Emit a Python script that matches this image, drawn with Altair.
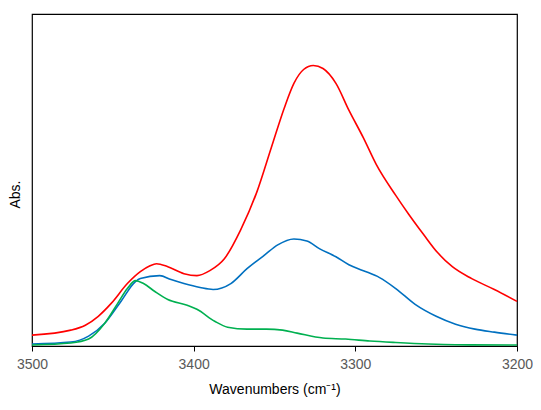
import altair as alt
import pandas as pd

red_wn = [3500, 3476, 3467, 3459, 3451, 3441, 3433, 3427, 3423, 3416, 3406, 3398, 3390, 3381, 3371, 3361,
          3352, 3344, 3338, 3332, 3326, 3320, 3312, 3304, 3295, 3287, 3275, 3267, 3258, 3249, 3240,
          3228, 3214, 3200]
red_abs = [11, 16, 21, 30, 43, 63, 75, 81, 83, 80, 73, 71, 76, 88, 117, 155,
           200, 240, 265, 279, 283, 280, 265, 238, 210, 183, 152, 133, 113, 94, 80,
           68, 57, 45]

blue_wn = [3500, 3476, 3465, 3455, 3445, 3436, 3433, 3421, 3414, 3406, 3396, 3388, 3377, 3367, 3356, 3348,
           3338, 3330, 3322, 3312, 3304, 3295, 3285, 3275, 3263, 3250, 3238, 3226, 3214, 3200]
blue_abs = [2, 4, 10, 23, 45, 65, 68, 71, 67, 63, 59, 57, 63, 78, 92, 102,
            108, 106, 98, 90, 82, 76, 69, 58, 42, 30, 22, 17, 14, 11]

green_wn = [3500, 3476, 3465, 3455, 3447, 3441, 3436, 3431, 3424, 3416, 3404, 3398, 3387, 3379, 3367, 3355,
            3345, 3336, 3320, 3306, 3291, 3275, 3255, 3238, 3200]
green_abs = [1, 3, 7, 23, 43, 58, 66, 63, 55, 47, 41, 37, 25, 19, 17, 17,
             16, 13, 8, 7, 5, 3.5, 2, 1.3, 1]

series_names = ["red", "blue", "green"]
series_colors = ["#FF0000", "#0070C0", "#00B050"]
x_ticks = [3500, 3400, 3300, 3200]

rows = []
for name, wn, ab in [("red", red_wn, red_abs), ("blue", blue_wn, blue_abs), ("green", green_wn, green_abs)]:
    for i, (w, a) in enumerate(zip(wn, ab)):
        rows.append({"series": name, "wn": w, "abs": a / 100.0, "order": i})
df = pd.DataFrame(rows)

chart = alt.Chart(df).mark_line(strokeWidth=1.6, interpolate="monotone").encode(
    x=alt.X("wn:Q", scale=alt.Scale(domain=[3500, 3200], nice=False),
            axis=alt.Axis(values=x_ticks, title="Wavenumbers (cm⁻¹)", grid=False, domain=False,
                          tickColor="#000000", tickSize=5, labelColor="#595959", labelFontSize=14,
                          labelFont="Liberation Sans", labelPadding=6, labelFlush=False,
                          titleFont="Liberation Sans",
                          titleFontSize=14, titleFontWeight="normal", titleColor="#000000",
                          titleBaseline="middle", titleY=43, format="d")),
    y=alt.Y("abs:Q", scale=alt.Scale(domain=[0, 3.35], nice=False),
            axis=alt.Axis(title="Abs.", labels=False, ticks=False, grid=False, domain=False,
                          titleFont="Liberation Sans", titleFontSize=14, titleFontWeight="normal",
                          titleColor="#000000", titleX=-17, titleY=180, titleAngle=-90,
                          titleBaseline="middle", titleAlign="center")),
    color=alt.Color("series:N", scale=alt.Scale(domain=series_names, range=series_colors), legend=None),
    detail="series:N",
    order="order:Q",
).properties(
    width=485, height=332,
    autosize=alt.AutoSizeParams(type="none"),
    padding={"left": 24, "top": 6, "right": 16, "bottom": 51},
).configure_view(stroke="#000000", strokeWidth=1.2)

chart.save("out.html", embed_options={"renderer": "svg", "actions": False})
